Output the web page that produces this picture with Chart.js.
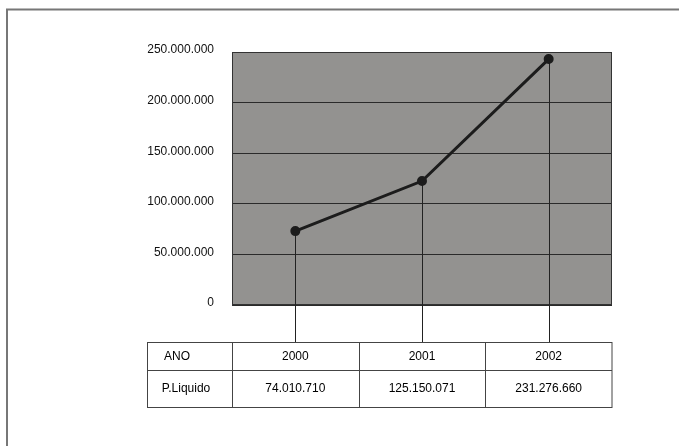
<!DOCTYPE html>
<html>
<head>
<meta charset="utf-8">
<script src="https://cdn.jsdelivr.net/npm/chart.js@4"></script>
<style>
  html, body { margin: 0; padding: 0; background: #fff; }
  #wrap { width: 679px; height: 446px; }
</style>
</head>
<body>
<div id="wrap"><canvas id="chart" width="679" height="446"></canvas></div>
<script>
// dados
const anos = ['2000', '2001', '2002'];
const pLiquido = [73000000, 122500000, 243000000];   // posição dos pontos no gráfico
const tabelaValores = ['74.010.710', '125.150.071', '231.276.660'];
const rotuloLinha1 = 'ANO';
const rotuloLinha2 = 'P.Liquido';
const yTicks = [0, 50000000, 100000000, 150000000, 200000000, 250000000];

const fonte = '12px "Liberation Sans", Arial, sans-serif';

const fmt = (v)=>String(v).replace(/\B(?=(\d{3})+(?!\d))/g, '.');

// fundo cinza da área do gráfico + moldura externa
const fundo = {
  id: 'fundo',
  beforeDraw(chart){
    const {ctx, chartArea: a} = chart;
    ctx.save();
    ctx.fillStyle = '#939290';
    ctx.fillRect(a.left, a.top, a.right - a.left, a.bottom - a.top);
    // moldura
    ctx.strokeStyle = '#777';
    ctx.lineWidth = 2;
    ctx.beginPath();
    ctx.moveTo(679, 9.5);
    ctx.lineTo(7, 9.5);
    ctx.lineTo(7, 446);
    ctx.stroke();
    ctx.restore();
  }
};

// linhas verticais e tabela
const tabela = {
  id: 'tabela',
  beforeDatasetsDraw(chart){
    const {ctx, chartArea: a} = chart;
    const meta = chart.getDatasetMeta(0);
    ctx.save();
    ctx.strokeStyle = '#333';
    ctx.lineWidth = 1;
    ctx.strokeRect(a.left + 0.5, a.top + 0.5, a.right - a.left - 1, a.bottom - a.top - 1);
    ctx.strokeStyle = '#222';
    meta.data.forEach(p=>{
      const x = Math.round(p.x) + 0.5;
      ctx.beginPath();
      ctx.moveTo(x, p.y);
      ctx.lineTo(x, 342);
      ctx.stroke();
    });
    ctx.restore();
  },
  afterDraw(chart){
    const {ctx, chartArea: a, scales: {x}} = chart;
    const top = 342.5, mid = 370.5, bot = 407.5, left = 147.5;
    const w = (a.right - a.left) / anos.length;
    ctx.save();
    ctx.strokeStyle = '#444';
    ctx.lineWidth = 1;
    ctx.strokeRect(left, top, a.right - left, bot - top);
    ctx.beginPath();
    ctx.moveTo(left, mid); ctx.lineTo(a.right, mid);
    for(let i=0;i<anos.length;i++){
      const bx = Math.round(a.left + i*w) + 0.5;
      ctx.moveTo(bx, top); ctx.lineTo(bx, bot);
    }
    ctx.stroke();
    ctx.fillStyle = '#000';
    ctx.font = fonte;
    ctx.textAlign = 'center';
    ctx.textBaseline = 'middle';
    ctx.fillText(rotuloLinha1, 177, (top+mid)/2);
    ctx.fillText(rotuloLinha2, 186, (mid+bot)/2);
    anos.forEach((ano, i)=>{
      const cx = x.getPixelForValue(i);
      ctx.fillText(ano, cx, (top+mid)/2);
      ctx.fillText(tabelaValores[i], cx, (mid+bot)/2);
    });
    ctx.restore();
  }
};

new Chart(document.getElementById('chart'), {
  type: 'line',
  data: {
    labels: anos,
    datasets: [{
      label: 'P.Liquido',
      data: pLiquido,
      borderColor: '#1c1c1c',
      backgroundColor: '#1c1c1c',
      borderWidth: 3,
      pointRadius: 3.5,
      pointHoverRadius: 3.5,
      fill: false,
      tension: 0
    }]
  },
  options: {
    responsive: false,
    animation: false,
    layout: { padding: { left: 0, right: 67, top: 52, bottom: 141 } },
    plugins: {
      legend: { display: false },
      tooltip: { enabled: false },
      title: { display: false }
    },
    scales: {
      x: {
        display: false,
        offset: true
      },
      y: {
        min: 0,
        max: 250000000,
        afterBuildTicks(axis){ axis.ticks = yTicks.map(v=>({value: v})); },
        afterFit(axis){ axis.width = 232; },
        border: { display: true, color: '#333', width: 1 },
        grid: { color: '#2a2a2a', drawTicks: false, lineWidth: 1 },
        ticks: {
          padding: 18,
          labelOffset: -2,
          color: '#111',
          font: { family: '"Liberation Sans", Arial, sans-serif', size: 12 },
          callback: (v)=>fmt(v)
        }
      }
    }
  },
  plugins: [fundo, tabela]
});
</script>
</body>
</html>
